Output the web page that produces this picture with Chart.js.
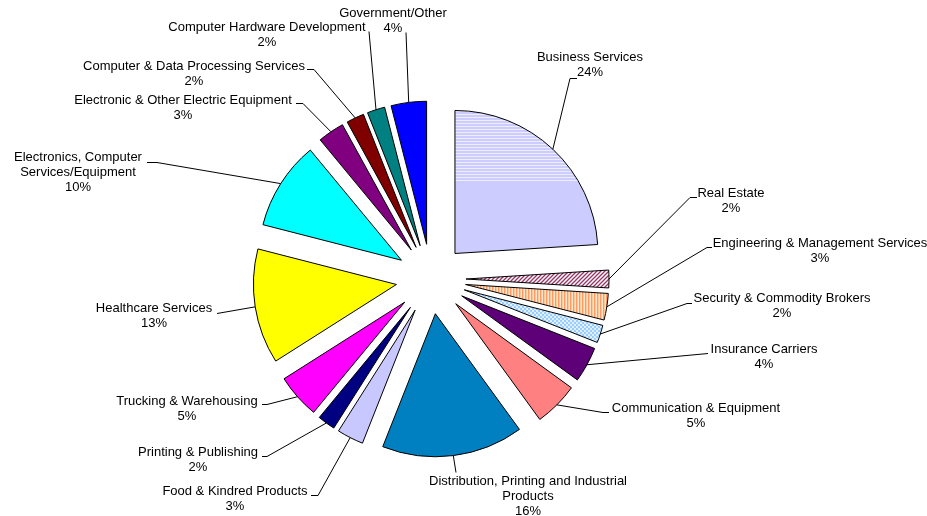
<!DOCTYPE html>
<html><head><meta charset="utf-8">
<script src="https://cdn.jsdelivr.net/npm/chart.js@4.4.0/dist/chart.umd.min.js"></script>
<style>html,body{margin:0;padding:0;background:#fff;}#wrap{width:927px;height:516px;position:relative;}</style>
</head><body><div id="wrap"><canvas id="c" width="927" height="516"></canvas></div>
<script>
// ---- data ----
const categories = [
  'Business Services',
  'Real Estate',
  'Engineering & Management Services',
  'Security & Commodity Brokers',
  'Insurance Carriers',
  'Communication & Equipment',
  ['Distribution, Printing and Industrial', 'Products'],
  'Food & Kindred Products',
  'Printing & Publishing',
  'Trucking & Warehousing',
  'Healthcare Services',
  ['Electronics, Computer', 'Services/Equipment'],
  'Electronic & Other Electric Equipment',
  'Computer & Data Processing Services',
  'Computer Hardware Development',
  'Government/Other'
];
const shares = [24, 2, 3, 2, 4, 5, 16, 3, 2, 5, 13, 10, 3, 2, 2, 4];

// ---- styles / layout ----
const sliceColors = ['business', 'hatch', 'stripe', 'check', '#5E0078', '#FF8080', '#0080C0', '#C8C8FF',
  '#000080', '#FF00FF', '#FFFF00', '#00FFFF', '#800080', '#800000', '#008080', '#0000FF'];
const EXPLODE = 35;
const RADIUS = 143;
const LINE_H = 15;
const labelLayout = [
  {x: 590, y: 57, path: [[570, 78], [577, 78]]},
  {x: 731, y: 193, path: [[690, 197], [697, 197]]},
  {x: 820, y: 243, path: [[707, 247], [712, 247]]},
  {x: 782, y: 298, path: [[687, 303], [692, 303]]},
  {x: 764, y: 349, path: [[708, 353]]},
  {x: 696, y: 408, path: [[603, 412], [609, 412]]},
  {x: 528, y: 481, path: [[456, 472]]},
  {x: 235, y: 491, path: [[318, 495], [311, 495]]},
  {x: 198, y: 452, path: [[267, 456], [262, 456]]},
  {x: 187, y: 401, path: [[267, 404], [262, 404]]},
  {x: 154, y: 308, path: [[217, 313]]},
  {x: 78, y: 157, path: [[157, 162], [147, 162]]},
  {x: 183, y: 100, path: [[303, 103], [296, 103]]},
  {x: 194, y: 66, path: [[314, 69], [307, 69]]},
  {x: 267, y: 27, path: [[369, 31]]},
  {x: 393, y: 13, path: [[406, 32]]}
];

const canvas = document.getElementById('c');
const ctx0 = canvas.getContext('2d');
function tile(w, h, draw) {
  const c = document.createElement('canvas'); c.width = w; c.height = h;
  draw(c.getContext('2d'), w, h); return c;
}
const patterns = {
  business: ctx0.createPattern(tile(927, 516, (x, w, h) => {
    x.fillStyle = '#CCCCFF'; x.fillRect(0, 0, w, h);
    x.fillStyle = '#EDEDFF';
    for (let y = 111; y < 182; y += 3) x.fillRect(0, y, w, 1);
  }), 'no-repeat'),
  hatch: ctx0.createPattern(tile(4, 4, (x) => {
    x.fillStyle = '#FFFFFF'; x.fillRect(0, 0, 4, 4);
    x.strokeStyle = '#993366'; x.lineWidth = 1.3;
    x.beginPath(); x.moveTo(-1, 5); x.lineTo(5, -1); x.moveTo(-1, 1); x.lineTo(1, -1); x.moveTo(3, 5); x.lineTo(5, 3); x.stroke();
  }), 'repeat'),
  stripe: ctx0.createPattern(tile(3, 3, (x) => {
    x.fillStyle = '#FFE6CC'; x.fillRect(0, 0, 3, 3);
    x.fillStyle = '#FF9966'; x.fillRect(0, 0, 1, 3);
    x.fillStyle = '#FFC896'; x.fillRect(1, 0, 1, 3);
  }), 'repeat'),
  check: ctx0.createPattern(tile(4, 4, (x) => {
    x.fillStyle = '#E0F0FF'; x.fillRect(0, 0, 4, 4);
    x.fillStyle = '#99CCFF'; x.fillRect(0, 0, 2, 2); x.fillRect(2, 2, 2, 2);
  }), 'repeat')
};
const fills = sliceColors.map(c => patterns[c] || c);

const explode = {
  id: 'explode',
  afterDatasetsUpdate(chart) {
    const a = chart.chartArea;
    const cx = (a.left + a.right) / 2, cy = (a.top + a.bottom) / 2;
    chart.getDatasetMeta(0).data.forEach(arc => {
      const h = (arc.startAngle + arc.endAngle) / 2;
      arc.x = cx + Math.cos(h) * EXPLODE;
      arc.y = cy + Math.sin(h) * EXPLODE;
    });
  }
};

const sliceLabels = {
  id: 'sliceLabels',
  afterDatasetsDraw(chart) {
    const ctx = chart.ctx;
    const meta = chart.getDatasetMeta(0);
    ctx.save();
    ctx.font = '13px "Liberation Sans", Arial, sans-serif';
    ctx.fillStyle = '#000'; ctx.strokeStyle = '#000'; ctx.lineWidth = 1;
    ctx.textAlign = 'center'; ctx.textBaseline = 'middle';
    meta.data.forEach((arc, i) => {
      const h = (arc.startAngle + arc.endAngle) / 2;
      const sx = arc.x + Math.cos(h) * arc.outerRadius;
      const sy = arc.y + Math.sin(h) * arc.outerRadius;
      const L = labelLayout[i];
      ctx.beginPath(); ctx.moveTo(sx, sy);
      L.path.forEach(p => ctx.lineTo(p[0], p[1] + 0.5));
      ctx.stroke();
      const lines = [].concat(categories[i], shares[i] + '%');
      lines.forEach((t, k) => ctx.fillText(t, L.x, L.y + k * LINE_H));
    });
    ctx.restore();
  }
};

new Chart(ctx0, {
  type: 'pie',
  data: {
    labels: categories,
    datasets: [{
      data: shares,
      backgroundColor: fills,
      borderColor: '#000000',
      borderWidth: 1,
      borderJoinStyle: 'miter',
      offset: 0,
      radius: RADIUS
    }]
  },
  options: {
    responsive: false,
    animation: false,
    events: [],
    radius: RADIUS,
    layout: {padding: {left: 0, right: 65, top: 42, bottom: 0}},
    plugins: {legend: {display: false}, tooltip: {enabled: false}, title: {display: false}}
  },
  plugins: [explode, sliceLabels]
});
</script>
</body></html>
